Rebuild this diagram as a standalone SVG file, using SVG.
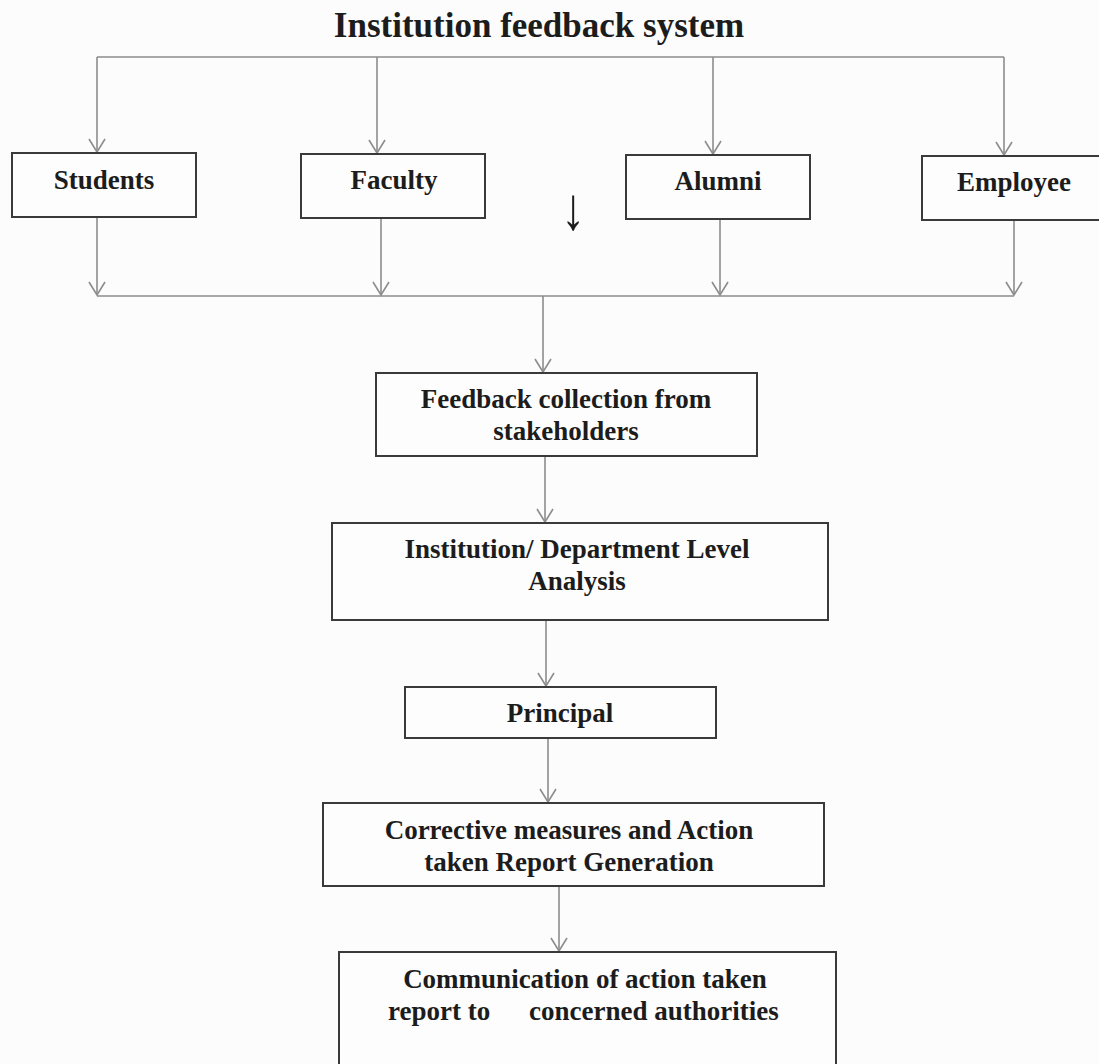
<svg xmlns="http://www.w3.org/2000/svg" width="1099" height="1064" viewBox="0 0 1099 1064">
<style>
.box{fill:#fdfdfd;stroke:#3a3a3a;stroke-width:2}
.lbl{font-family:"Liberation Serif","Times New Roman",serif;font-weight:bold;font-size:27px;fill:#1c1c1c;text-anchor:middle}
.title{font-family:"Liberation Serif","Times New Roman",serif;font-weight:bold;font-size:35px;fill:#1c1c1c;text-anchor:middle}
.conn{fill:none;stroke:#8c8c8c;stroke-width:1.6}
.arr{marker-end:url(#ah)}
</style>
<defs>
<marker id="ah" markerUnits="userSpaceOnUse" viewBox="-15 -15 30 30" markerWidth="30" markerHeight="30" refX="0" refY="0" orient="auto" overflow="visible">
<path d="M-13,-8 L0,0 L-13,8" fill="none" stroke="#8c8c8c" stroke-width="1.6"/>
</marker>
</defs>
<rect x="0" y="0" width="1099" height="1064" fill="#fcfcfc"/>
<text id="title" class="title" x="539" y="37">Institution feedback system</text>
<g id="connectors">
<path class="conn" d="M97,57 H1004"/>
<path class="conn arr" d="M97,57 V152"/>
<path class="conn arr" d="M377,57 V153"/>
<path class="conn arr" d="M713,57 V154"/>
<path class="conn arr" d="M1004,57 V155"/>
<path class="conn arr" d="M97,217 V295"/>
<path class="conn arr" d="M381,218 V295"/>
<path class="conn arr" d="M720,219 V295"/>
<path class="conn arr" d="M1014,220 V295"/>
<path class="conn" d="M97,296 H1014"/>
<path class="conn arr" d="M543,296 V372"/>
<path class="conn arr" d="M545,456 V522"/>
<path class="conn arr" d="M546,620 V686"/>
<path class="conn arr" d="M548,738 V802"/>
<path class="conn arr" d="M559,886 V951"/>
</g>
<text id="loose-arrow" x="573" y="0" font-family="Liberation Serif, DejaVu Serif, serif" font-size="48" font-weight="bold" fill="#1c1c1c" text-anchor="middle" transform="translate(0,229) scale(1,1.25)">↓</text>
<g id="students"><rect class="box" x="12" y="153" width="184" height="64"/><text class="lbl" x="104" y="189">Students</text></g>
<g id="faculty"><rect class="box" x="301" y="154" width="184" height="64"/><text class="lbl" x="394" y="189">Faculty</text></g>
<g id="alumni"><rect class="box" x="626" y="155" width="184" height="64"/><text class="lbl" x="718" y="190">Alumni</text></g>
<g id="employee"><rect class="box" x="922" y="156" width="184" height="64"/><text class="lbl" x="1014" y="191">Employee</text></g>
<g id="feedback"><rect class="box" x="376" y="373" width="381" height="83"/><text class="lbl" x="566" y="408">Feedback collection from</text><text class="lbl" x="566" y="440">stakeholders</text></g>
<g id="analysis"><rect class="box" x="332" y="523" width="496" height="97"/><text class="lbl" x="577" y="558">Institution/ Department Level</text><text class="lbl" x="577" y="590">Analysis</text></g>
<g id="principal"><rect class="box" x="405" y="687" width="311" height="51"/><text class="lbl" x="560" y="722">Principal</text></g>
<g id="corrective"><rect class="box" x="323" y="803" width="501" height="83"/><text class="lbl" x="569" y="839">Corrective measures and Action</text><text class="lbl" x="569" y="871">taken Report Generation</text></g>
<g id="communication"><rect class="box" x="339" y="952" width="497" height="130"/><text class="lbl" x="585" y="988">Communication of action taken</text><text class="lbl" y="1020" style="text-anchor:start"><tspan x="388">report to</tspan><tspan x="529">concerned authorities</tspan></text></g>
</svg>
